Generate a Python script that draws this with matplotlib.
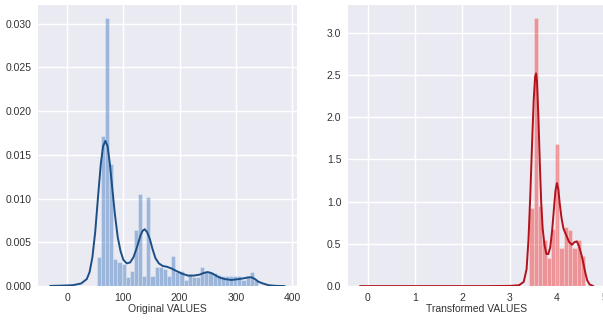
"""
Distribution of VALUES before and after transformation: density histogram
with a KDE curve on top, side by side.
"""

import matplotlib

matplotlib.use("Agg")
import matplotlib.pyplot as plt
import numpy as np

# ---------------------------------------------------------------------------
# Data
# ---------------------------------------------------------------------------

# Original VALUES: histogram (density) with equal-width bins
ORIG_BIN_START = 52.7
ORIG_BIN_WIDTH = 7.35
ORIG_DENSITY = [
    0.0033, 0.0172, 0.0306, 0.0140, 0.0031, 0.0027, 0.0025, 0.0010,
    0.0017, 0.0064, 0.0105, 0.0011, 0.0102, 0.0012, 0.0022, 0.0022,
    0.0020, 0.0011, 0.0034, 0.0016, 0.0017, 0.0007, 0.0014, 0.0010,
    0.0010, 0.0022, 0.0017, 0.0016, 0.0015, 0.0013, 0.0012, 0.0011,
    0.0011, 0.0011, 0.0011, 0.0007, 0.0010, 0.0016, 0.0007,
]

# Original VALUES: KDE curve
ORIG_KDE_X = [
    -30, -10, 10, 25, 35, 40, 45, 50, 55, 60, 64, 68, 72, 76, 80, 85, 90,
    95, 100, 106, 112, 118, 124, 130, 134, 138, 142, 147, 152, 157, 163,
    170, 178, 186, 195, 205, 215, 225, 235, 243, 250, 256, 262, 270, 280,
    292, 305, 315, 322, 328, 334, 340, 348, 358, 370, 387,
]
ORIG_KDE_Y = [
    0.00002, 0.00005, 0.0001, 0.0003, 0.0008, 0.0016, 0.0033, 0.0062,
    0.0102, 0.0140, 0.0160, 0.0166, 0.0160, 0.0140, 0.0114, 0.0082,
    0.0056, 0.0040, 0.0030, 0.0026, 0.0027, 0.0033, 0.0044, 0.0057,
    0.0063, 0.0065, 0.0062, 0.0054, 0.0042, 0.0032, 0.0026, 0.0023,
    0.0022, 0.0020, 0.0017, 0.0014, 0.0012, 0.0012, 0.0013, 0.0015,
    0.0016, 0.0015, 0.0013, 0.0010, 0.0008, 0.0007, 0.0008, 0.0009,
    0.0010, 0.0010, 0.0008, 0.0005, 0.0003, 0.0001, 0.00003, 0.0,
]

# Transformed VALUES: histogram (density)
TRANS_BIN_START = 3.42
TRANS_BIN_WIDTH = 0.0905
TRANS_DENSITY = [
    0.93, 3.17, 0.95, 0.55, 0.33, 0.68, 1.68, 0.45, 0.70, 0.66, 0.45,
    0.55, 0.36,
]

# Transformed VALUES: KDE curve
TRANS_KDE_X = [
    -0.16, 0.5, 1.5, 2.5, 3.0, 3.2, 3.3, 3.36, 3.40, 3.44, 3.48, 3.51,
    3.54, 3.56, 3.58, 3.61, 3.64, 3.67, 3.70, 3.74, 3.78, 3.82, 3.86,
    3.90, 3.94, 3.97, 4.00, 4.03, 4.06, 4.10, 4.14, 4.20, 4.26, 4.32,
    4.37, 4.42, 4.47, 4.52, 4.56, 4.60, 4.64, 4.69, 4.77,
]
TRANS_KDE_Y = [
    0.0, 0.0, 0.0, 0.0, 0.002, 0.01, 0.05, 0.2, 0.55, 1.1, 1.75, 2.2,
    2.48, 2.52, 2.42, 2.0, 1.45, 0.98, 0.68, 0.48, 0.38, 0.38, 0.46,
    0.66, 0.93, 1.13, 1.22, 1.15, 0.98, 0.80, 0.68, 0.60, 0.52, 0.49,
    0.52, 0.53, 0.47, 0.37, 0.27, 0.16, 0.07, 0.02, 0.0,
]

# ---------------------------------------------------------------------------
# Style
# ---------------------------------------------------------------------------

plt.style.use("seaborn-v0_8-darkgrid")
plt.rcParams["font.family"] = ["Liberation Sans", "DejaVu Sans"]
plt.rcParams["axes.facecolor"] = "#eaeaf2"
plt.rcParams["xtick.color"] = "#333333"
plt.rcParams["ytick.color"] = "#333333"
plt.rcParams["axes.labelcolor"] = "#333333"

BLUE_LINE = "#1b4f86"
BLUE_BAR = "#3d78bf"
RED_LINE = "#b3121c"
RED_BAR = "#ee2a2a"


def draw_dist(ax, start, width, density, kde_x, kde_y, bar_color, line_color):
    edges = start + width * np.arange(len(density))
    ax.bar(edges, density, width=width, align="edge", color=bar_color,
           alpha=0.45, edgecolor="white", linewidth=0.4)
    ax.plot(kde_x, kde_y, color=line_color, linewidth=1.4)
    ax.grid(True, color="white", linewidth=1.0)
    ax.tick_params(labelsize=7.5, length=0, pad=5)
    for spine in ax.spines.values():
        spine.set_visible(False)


fig = plt.figure(figsize=(6.03, 3.2), dpi=100)

ax1 = fig.add_axes([0.0638, 0.106, 0.428, 0.878])
draw_dist(ax1, ORIG_BIN_START, ORIG_BIN_WIDTH, ORIG_DENSITY,
          ORIG_KDE_X, ORIG_KDE_Y, BLUE_BAR, BLUE_LINE)
ax1.set_xlabel("Original VALUES", fontsize=7.5, labelpad=1)

ax2 = fig.add_axes([0.5776, 0.106, 0.4257, 0.878])
draw_dist(ax2, TRANS_BIN_START, TRANS_BIN_WIDTH, TRANS_DENSITY,
          TRANS_KDE_X, TRANS_KDE_Y, RED_BAR, RED_LINE)
ax2.set_xlabel("Transformed VALUES", fontsize=7.5, labelpad=1)

fig.savefig("out.png", dpi=100)
